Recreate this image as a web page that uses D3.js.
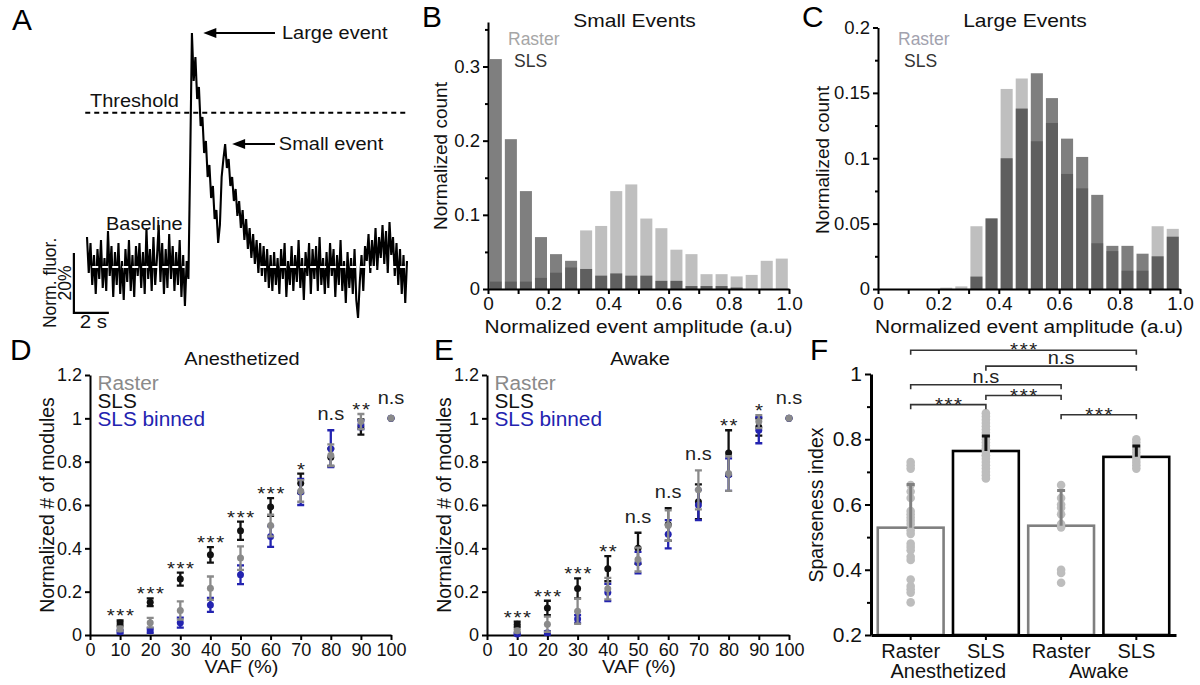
<!DOCTYPE html>
<html>
<head>
<meta charset="utf-8">
<script src="https://cdn.jsdelivr.net/npm/d3@7"></script>
<style>
  body { margin: 0; background: #fff; }
  svg { display: block; font-family: "Liberation Sans", Arial, sans-serif; }
</style>
</head>
<body>
<svg id="fig" width="1200" height="685"></svg>
<script>
// ---------- data ----------

// A: example fluorescence trace (% of baseline), one sample every 0.1 s
const traceStep = 0.1;
const traceValues = [
  10, -2, 8, -6, 4, -9, 6, -4, 9, -7,
  3, -8, 12, -3, 7, -10, 5, -6, 8, -9,
  2, -11, 6, -5, 9, -8, 4, -10, 7, -3,
  8, -7, 5, -9, 13, -4, 6, -8, 10, -6,
  3, 14, -5, 8, -9, 6, -7, 11, -4, 7,
  -8, 5, -6, 9, -10, 4, -13, 2, -4, 35,
  78, 62, 70, 56, 60, 47, 50, 38, 42, 30,
  34, 23, 27, 16, 19, 8, 14, 30, 36, 41,
  33, 36, 27, 30, 22, 26, 17, 22, 13, 19,
  9, 16, 6, 13, 3, 11, 1, 9, -2, 8,
  -3, 7, -5, 6, -7, 4, -8, 5, -6, 3,
  -9, 6, -4, 8, -10, 2, -6, 7, -8, 4,
  -5, 9, -7, 3, -11, 5, -3, 8, -9, 6,
  -4, 7, -8, 10, -6, 3, -9, 5, -7, 8,
  -3, 6, -10, 4, -6, 9, -8, 2, -12, 5,
  -7, 3, -9, 6, -11, -17, -5, 4, -8, 7,
  2, 11, -2, 9, 0, 13, -1, 10, 3, 14,
  1, 12, -2, 15, 4, 10, -3, 8, -6, 6,
  -9, 4, -12, 2
];
const thresholdLevel = 51.4;
const thresholdSpan = [-0.1, 18.2];
const baselineSpans = [[0.3, 5.6], [9.9, 18.2]];
const scaleBar = { t: -0.75, v: -15.3, seconds: 2, percent: 20 };
const eventNotes = [
  { text: 'Large event', tipT: 6.65, tailT: 10.75, v: 78, textT: 11.15, textV: 76 },
  { text: 'Small event', tipT: 8.3, tailT: 10.75, v: 41, textT: 10.97, textV: 39 }
];

// B, C: histograms, bins of 0.05
const binStarts = [0, 0.05, 0.1, 0.15, 0.2, 0.25, 0.3, 0.35, 0.4, 0.45,
                   0.5, 0.55, 0.6, 0.65, 0.7, 0.75, 0.8, 0.85, 0.9, 0.95];
const binWidth = 0.05;
const smallRaster = [0.01, 0.01, 0.01, 0.015, 0.022, 0.029, 0.079, 0.085, 0.132, 0.141,
                     0.095, 0.082, 0.053, 0.047, 0.02, 0.02, 0.017, 0.019, 0.038, 0.041];
const smallSLS = [0.31, 0.202, 0.132, 0.07, 0.047, 0.038, 0.027, 0.018, 0.021, 0.018,
                  0.018, 0.011, 0.011, 0.004, 0.004, 0.004, 0.002, 0, 0, 0];
const largeRaster = [0, 0, 0, 0, 0.001, 0.002, 0.048, 0.054, 0.153, 0.161,
                     0.113, 0.127, 0.088, 0.077, 0.035, 0.029, 0.014, 0.014, 0.048, 0.046];
const largeSLS = [0, 0, 0, 0, 0, 0, 0.0095, 0.054, 0.10, 0.138,
                  0.165, 0.146, 0.115, 0.101, 0.072, 0.033, 0.033, 0.027, 0.025, 0.040];
const histXTicks = [0, 0.1, 0.2, 0.3, 0.4, 0.5, 0.6, 0.7, 0.8, 0.9, 1.0];
const histXLabels = ['0', '', '0.2', '', '0.4', '', '0.6', '', '0.8', '', '1.0'];
const smallYTicks = [0, 0.1, 0.2, 0.3];
const smallYMinor = [0.05, 0.15, 0.25, 0.35];
const largeYTicks = [0, 0.05, 0.1, 0.15, 0.2];
const largeYMinor = [0.025, 0.075, 0.125, 0.175];

// D, E: normalized number of modules vs VAF
const vafLevels = [10, 20, 30, 40, 50, 60, 70, 80, 90, 100];
const vafTicks = [0, 10, 20, 30, 40, 50, 60, 70, 80, 90, 100];
const modulesYTicks = [0, 0.2, 0.4, 0.6, 0.8, 1, 1.2];

const anesSls = [0.055, 0.151, 0.258, 0.37, 0.481, 0.591, 0.70, 0.82, 0.96, 1.0];
const anesSlsErr = [0.012, 0.018, 0.03, 0.036, 0.042, 0.041, 0.045, 0.04, 0.035, 0];
const anesRaster = [0.028, 0.057, 0.113, 0.216, 0.355, 0.505, 0.665, 0.83, 0.985, 1.0];
const anesRasterErr = [0.01, 0.022, 0.042, 0.054, 0.054, 0.05, 0.05, 0.05, 0.035, 0];
const anesBinned = [0.015, 0.02, 0.057, 0.139, 0.278, 0.455, 0.66, 0.86, 0.97, 1.0];
const anesBinnedErr = [0.008, 0.01, 0.023, 0.032, 0.043, 0.048, 0.06, 0.085, 0.02, 0];
const anesSig = ['***', '***', '***', '***', '***', '***', '*', 'n.s', '**', 'n.s'];

const awakeSls = [0.05, 0.125, 0.215, 0.306, 0.40, 0.51, 0.615, 0.84, 0.96, 1.0];
const awakeSlsErr = [0.012, 0.033, 0.046, 0.058, 0.072, 0.075, 0.08, 0.105, 0.04, 0];
const awakeRaster = [0.02, 0.05, 0.11, 0.214, 0.348, 0.505, 0.67, 0.745, 0.985, 1.0];
const awakeRasterErr = [0.008, 0.035, 0.058, 0.05, 0.055, 0.07, 0.09, 0.08, 0.03, 0];
const awakeBinned = [0.005, 0.01, 0.074, 0.196, 0.334, 0.465, 0.60, 0.74, 0.945, 1.0];
const awakeBinnedErr = [0.005, 0.008, 0.018, 0.04, 0.05, 0.065, 0.07, 0.075, 0.06, 0];
const awakeSig = ['***', '***', '***', '**', 'n.s', 'n.s', 'n.s', '**', '*', 'n.s'];

// F: sparseness index
const sparseLabels = ['Raster', 'SLS', 'Raster', 'SLS'];
const sparseStates = ['Anesthetized', 'Awake'];
const sparseMean = [0.529, 0.764, 0.535, 0.746];
const sparseSd = [0.132, 0.046, 0.108, 0.033];
const sparseDots = [
  [0.73, 0.72, 0.71, 0.66, 0.64, 0.62, 0.58, 0.57, 0.56, 0.55, 0.54, 0.52,
   0.51, 0.48, 0.47, 0.46, 0.44, 0.43, 0.37, 0.35, 0.34, 0.33, 0.30],
  [0.88, 0.87, 0.86, 0.85, 0.84, 0.83, 0.82, 0.81, 0.80, 0.79, 0.78, 0.77,
   0.77, 0.76, 0.75, 0.75, 0.74, 0.73, 0.72, 0.71, 0.70, 0.69, 0.68],
  [0.66, 0.62, 0.60, 0.59, 0.57, 0.54, 0.53, 0.40, 0.39, 0.36],
  [0.80, 0.79, 0.77, 0.76, 0.75, 0.74, 0.73, 0.72, 0.71]
];
const sparseYTicks = [0.2, 0.4, 0.6, 0.8, 1];
const sparseYMinor = [0.3, 0.5, 0.7, 0.9];
const sparseBrackets = [
  { a: 0, b: 3, level: 1.073, text: '***' },
  { a: 1, b: 3, level: 1.024, text: 'n.s' },
  { a: 0, b: 2, level: 0.967, text: 'n.s' },
  { a: 1, b: 2, level: 0.934, text: '***' },
  { a: 0, b: 1, level: 0.906, text: '***' },
  { a: 2, b: 3, level: 0.875, text: '***' }
];

// ---------- drawing ----------
const svg = d3.select('#fig');
svg.append('rect').attr('width', 1200).attr('height', 685).attr('fill', '#fff');

const SX = 1.08; // the figure is slightly wider than tall
const colRaster = '#8a8a8a';
const colSls = '#111';
const colBinned = '#2323b0';

function label(g, str, x, y, o = {}) {
  return g.append('text')
    .attr('transform', `translate(${x},${y}) rotate(${o.rotate || 0}) scale(${o.sx ?? SX},1)`)
    .attr('text-anchor', o.anchor || 'start')
    .attr('font-size', o.size || 18)
    .attr('fill', o.fill || '#111')
    .attr('letter-spacing', o.spacing || null)
    .text(str);
}

function styleAxis(sel, fontSize, width = 2) {
  sel.attr('font-family', null).attr('font-size', null);
  sel.select('.domain').attr('stroke', '#000').attr('stroke-width', width);
  sel.selectAll('.tick line').attr('stroke', '#000').attr('stroke-width', 2);
  sel.selectAll('.tick text').attr('font-size', fontSize).attr('fill', '#111');
}

function minorTicks(g, axisFn, scale, values, size, tx, ty) {
  g.append('g')
    .attr('transform', `translate(${tx},${ty})`)
    .call(axisFn(scale).tickValues(values).tickSize(size).tickFormat(''))
    .call(s => s.select('.domain').remove())
    .call(s => s.selectAll('.tick line').attr('stroke', '#000').attr('stroke-width', 2));
}

// panel letters
[['A', 12, 30], ['B', 422, 27], ['C', 802, 27], ['D', 10, 360], ['E', 434, 360], ['F', 810, 360]]
  .forEach(([t, x, y]) => label(svg, t, x, y, { size: 29, sx: 1.03, fill: '#000' }));

// ---------- A ----------
(function () {
  const g = svg.append('g');
  const x = d3.scaleLinear().domain([0, 18.3]).range([87, 407]);
  const y = d3.scaleLinear().domain([0, 78]).range([267, 33]);

  g.append('path')
    .datum(traceValues)
    .attr('d', d3.line().x((d, i) => x(i * traceStep)).y(d => y(d)))
    .attr('fill', 'none')
    .attr('stroke', '#000')
    .attr('stroke-width', 2.1);

  baselineSpans.forEach(([t0, t1]) => {
    g.append('line')
      .attr('x1', x(t0)).attr('x2', x(t1))
      .attr('y1', y(0)).attr('y2', y(0))
      .attr('stroke', '#fff').attr('stroke-width', 2)
      .attr('stroke-dasharray', '6 4');
  });

  g.append('line')
    .attr('x1', x(thresholdSpan[0])).attr('x2', x(thresholdSpan[1]))
    .attr('y1', y(thresholdLevel)).attr('y2', y(thresholdLevel))
    .attr('stroke', '#000').attr('stroke-width', 2)
    .attr('stroke-dasharray', '5 4');

  label(g, 'Threshold', 90, 106.5, { size: 18.5 });
  label(g, 'Baseline', 106, 230, { size: 18.5 });

  eventNotes.forEach(n => {
    const tip = x(n.tipT), yy = y(n.v);
    g.append('line')
      .attr('x1', x(n.tailT)).attr('x2', tip + 10)
      .attr('y1', yy).attr('y2', yy)
      .attr('stroke', '#000').attr('stroke-width', 2);
    g.append('path')
      .attr('d', `M${tip},${yy}L${tip + 13},${yy - 5}L${tip + 13},${yy + 5}Z`)
      .attr('fill', '#000');
    label(g, n.text, x(n.textT), y(n.textV), { size: 18.5 });
  });

  // scale bar
  const sx0 = x(scaleBar.t), sy0 = y(scaleBar.v);
  const sx1 = x(scaleBar.t + scaleBar.seconds), sy1 = y(scaleBar.v + scaleBar.percent);
  g.append('path')
    .attr('d', `M${sx0},${sy1}L${sx0},${sy0}L${sx1},${sy0}`)
    .attr('fill', 'none').attr('stroke', '#000').attr('stroke-width', 2.2);
  label(g, '2 s', (sx0 + sx1) / 2 + 2, 328, { size: 19, anchor: 'middle' });
  label(g, '20%', 71, (sy0 + sy1) / 2, { size: 17.5, anchor: 'middle', rotate: -90, sx: 1 });
  label(g, 'Norm. fluor.', 56, (sy0 + sy1) / 2, { size: 17.5, anchor: 'middle', rotate: -90, sx: 1 });
})();

// ---------- B, C ----------
function histogram(o) {
  const g = svg.append('g');
  const x = d3.scaleLinear().domain([0, 1]).range(o.xr);
  const y = d3.scaleLinear().domain([0, o.ymax]).range([289, o.ytop]);
  const bw = x(binWidth) - x(0);

  [[o.raster, 'rgba(0,0,0,0.25)'], [o.sls, 'rgba(0,0,0,0.5)']].forEach(([vals, fill]) => {
    g.append('g').selectAll('rect').data(vals).join('rect')
      .attr('x', (d, i) => x(binStarts[i]) + bw * 0.12)
      .attr('width', bw * 0.8)
      .attr('y', d => y(d))
      .attr('height', d => y(0) - y(d))
      .attr('fill', fill);
  });

  g.append('g')
    .attr('transform', `translate(0,${y(0)})`)
    .call(d3.axisBottom(x).tickValues(histXTicks).tickSize(5).tickSizeOuter(0).tickPadding(3)
      .tickFormat((d, i) => histXLabels[i]))
    .call(s => styleAxis(s, 19));
  g.append('g')
    .attr('transform', `translate(${o.xr[0]},0)`)
    .call(d3.axisLeft(y).tickValues(o.yTicks).tickSize(5).tickSizeOuter(0).tickPadding(3)
      .tickFormat(d3.format('~g')))
    .call(s => styleAxis(s, 18.5));
  minorTicks(g, d3.axisLeft, y, o.yMinor, 3, o.xr[0], 0);

  label(g, o.title, (o.xr[0] + o.xr[1]) / 2 - 4, 27, { size: 17.5, anchor: 'middle', sx: 1.2 });
  label(g, 'Raster', o.xr[0] + 20, 45, { size: 17.5, fill: o.rasterText, sx: 1 });
  label(g, 'SLS', o.xr[0] + 26, 67, { size: 17.5, fill: '#333', sx: 1 });
  label(g, 'Normalized count', o.ylabX, o.ylabY, { size: 19, anchor: 'middle', rotate: -90, sx: 1 });
  label(g, 'Normalized event amplitude (a.u)', (o.xr[0] + o.xr[1]) / 2, 333, { size: 19, anchor: 'middle', sx: 1.1 });
}

histogram({
  xr: [488, 789], ymax: 0.36, ytop: 22, raster: smallRaster, sls: smallSLS,
  yTicks: smallYTicks, yMinor: smallYMinor, title: 'Small Events', rasterText: '#a6a6a6',
  ylabX: 447, ylabY: 156
});
histogram({
  xr: [878, 1180], ymax: 0.2, ytop: 27.5, raster: largeRaster, sls: largeSLS,
  yTicks: largeYTicks, yMinor: largeYMinor, title: 'Large Events', rasterText: '#a2a2ae',
  ylabX: 829, ylabY: 160
});

// ---------- D, E ----------
function vafPanel(o) {
  const g = svg.append('g');
  const x = d3.scaleLinear().domain([0, 100]).range(o.xr);
  const y = d3.scaleLinear().domain([0, 1.2]).range([635, 375]);
  const series = [
    { mean: o.sls, err: o.slsErr, color: colSls },
    { mean: o.binned, err: o.binnedErr, color: colBinned },
    { mean: o.raster, err: o.rasterErr, color: colRaster }
  ];

  g.append('g')
    .attr('transform', `translate(0,${y(0)})`)
    .call(d3.axisBottom(x).tickValues(vafTicks).tickSize(5).tickSizeOuter(0).tickPadding(3))
    .call(s => styleAxis(s, 18));
  g.append('g')
    .attr('transform', `translate(${o.xr[0]},0)`)
    .call(d3.axisLeft(y).tickValues(modulesYTicks).tickSize(5).tickSizeOuter(0).tickPadding(3)
      .tickFormat(d3.format('~g')))
    .call(s => styleAxis(s, 18));

  series.forEach(s => {
    const sg = g.append('g').attr('stroke', s.color).attr('fill', s.color);
    vafLevels.forEach((v, i) => {
      const cx = x(v), m = s.mean[i], e = s.err[i];
      if (e > 0) {
        sg.append('path')
          .attr('d', `M${cx},${y(m - e)}V${y(m + e)}M${cx - 3.5},${y(m + e)}H${cx + 3.5}M${cx - 3.5},${y(m - e)}H${cx + 3.5}`)
          .attr('fill', 'none').attr('stroke-width', 2.3);
      }
      sg.append('circle').attr('cx', cx).attr('cy', y(m)).attr('r', 3.5).attr('stroke', 'none');
    });
  });

  vafLevels.forEach((v, i) => {
    const top = d3.max(series, s => s.mean[i] + s.err[i]);
    const allZero = series.every(s => s.err[i] === 0);
    const py = y(top) - (allZero ? 4 : 0);
    const stars = o.sig[i].startsWith('*');
    label(g, o.sig[i], x(v) + (stars ? 1 : 0), stars ? py + 2 : py - 10,
      { size: stars ? 19 : 18.5, anchor: 'middle', spacing: stars ? 1.5 : null, fill: '#222' });
  });

  label(g, o.title, o.titleX, 365, { size: 19, anchor: 'middle', sx: 1.05 });
  label(g, 'Raster', o.xr[0] + 7.5, 390, { size: 20, fill: colRaster, sx: 1.04 });
  label(g, 'SLS', o.xr[0] + 7.5, 407.5, { size: 20, fill: colSls, sx: 1.04 });
  label(g, 'SLS binned', o.xr[0] + 7.5, 425.5, { size: 20, fill: colBinned, sx: 1.04 });
  label(g, 'Normalized # of modules', o.xr[0] - 36, 505, { size: 19.5, anchor: 'middle', rotate: -90, sx: 1 });
  label(g, 'VAF (%)', (o.xr[0] + o.xr[1]) / 2 + 1, 673, { size: 19, anchor: 'middle', sx: 1.05 });
}

vafPanel({
  xr: [90, 391], title: 'Anesthetized', titleX: 242,
  sls: anesSls, slsErr: anesSlsErr, raster: anesRaster, rasterErr: anesRasterErr,
  binned: anesBinned, binnedErr: anesBinnedErr, sig: anesSig
});
vafPanel({
  xr: [487, 789], title: 'Awake', titleX: 640,
  sls: awakeSls, slsErr: awakeSlsErr, raster: awakeRaster, rasterErr: awakeRasterErr,
  binned: awakeBinned, binnedErr: awakeBinnedErr, sig: awakeSig
});

// ---------- F ----------
(function () {
  const g = svg.append('g');
  const x = d3.scaleBand().domain(d3.range(sparseLabels.length)).range([871, 1176])
    .paddingInner(0.125).paddingOuter(0.09);
  const y = d3.scaleLinear().domain([0.2, 1]).range([635, 374]);
  const cx = i => x(i) + x.bandwidth() / 2;
  const edge = i => (sparseLabels[i] === 'Raster' ? '#7f7f7f' : '#000');

  g.selectAll('rect.bar').data(sparseMean).join('rect')
    .attr('class', 'bar')
    .attr('x', (d, i) => x(i))
    .attr('width', x.bandwidth())
    .attr('y', d => y(d))
    .attr('height', d => y(0.2) - y(d))
    .attr('fill', '#fff')
    .attr('stroke', (d, i) => edge(i))
    .attr('stroke-width', 2.6);

  sparseDots.forEach((vals, i) => {
    g.append('g').selectAll('circle').data(vals).join('circle')
      .attr('cx', cx(i)).attr('cy', d => y(d)).attr('r', 4.3).attr('fill', '#bdbdbd');
  });

  sparseMean.forEach((m, i) => {
    const top = y(m + sparseSd[i]);
    g.append('path')
      .attr('d', `M${cx(i)},${y(m)}V${top}M${cx(i) - 4},${top}H${cx(i) + 4}`)
      .attr('fill', 'none').attr('stroke', sparseLabels[i] === 'Raster' ? '#808080' : '#111')
      .attr('stroke-width', 3);
  });

  g.append('g')
    .attr('transform', `translate(0,${y(0.2)})`)
    .call(d3.axisBottom(x).tickSize(5).tickSizeOuter(0).tickFormat(''))
    .call(s => styleAxis(s, 19, 3));
  g.append('g')
    .attr('transform', `translate(871,0)`)
    .call(d3.axisLeft(y).tickValues(sparseYTicks).tickSize(6).tickSizeOuter(0).tickPadding(3)
      .tickFormat(d3.format('~g')))
    .call(s => styleAxis(s, 21, 3));
  minorTicks(g, d3.axisLeft, y, sparseYMinor, 4, 871, 0);

  sparseLabels.forEach((t, i) => label(g, t, cx(i), 658, { size: 20, anchor: 'middle', sx: 1 }));
  sparseStates.forEach((t, k) => label(g, t, (cx(2 * k) + cx(2 * k + 1)) / 2, 678, { size: 20, anchor: 'middle', sx: 1 }));
  label(g, 'Sparseness index', 823, 505, { size: 19.5, anchor: 'middle', rotate: -90, sx: 1 });

  sparseBrackets.forEach(b => {
    const yy = y(b.level), x1 = cx(b.a), x2 = cx(b.b);
    g.append('path')
      .attr('d', `M${x1},${yy + 4.5}V${yy}H${x2}V${yy + 4.5}`)
      .attr('fill', 'none').attr('stroke', '#333').attr('stroke-width', 1.6);
    const stars = b.text.startsWith('*');
    label(g, b.text, (x1 + x2) / 2 + (stars ? 1 : 0), stars ? yy + 6 : yy - 2,
      { size: stars ? 19 : 18.5, anchor: 'middle', spacing: stars ? 1.5 : null, fill: '#222' });
  });
})();
</script>
</body>
</html>
